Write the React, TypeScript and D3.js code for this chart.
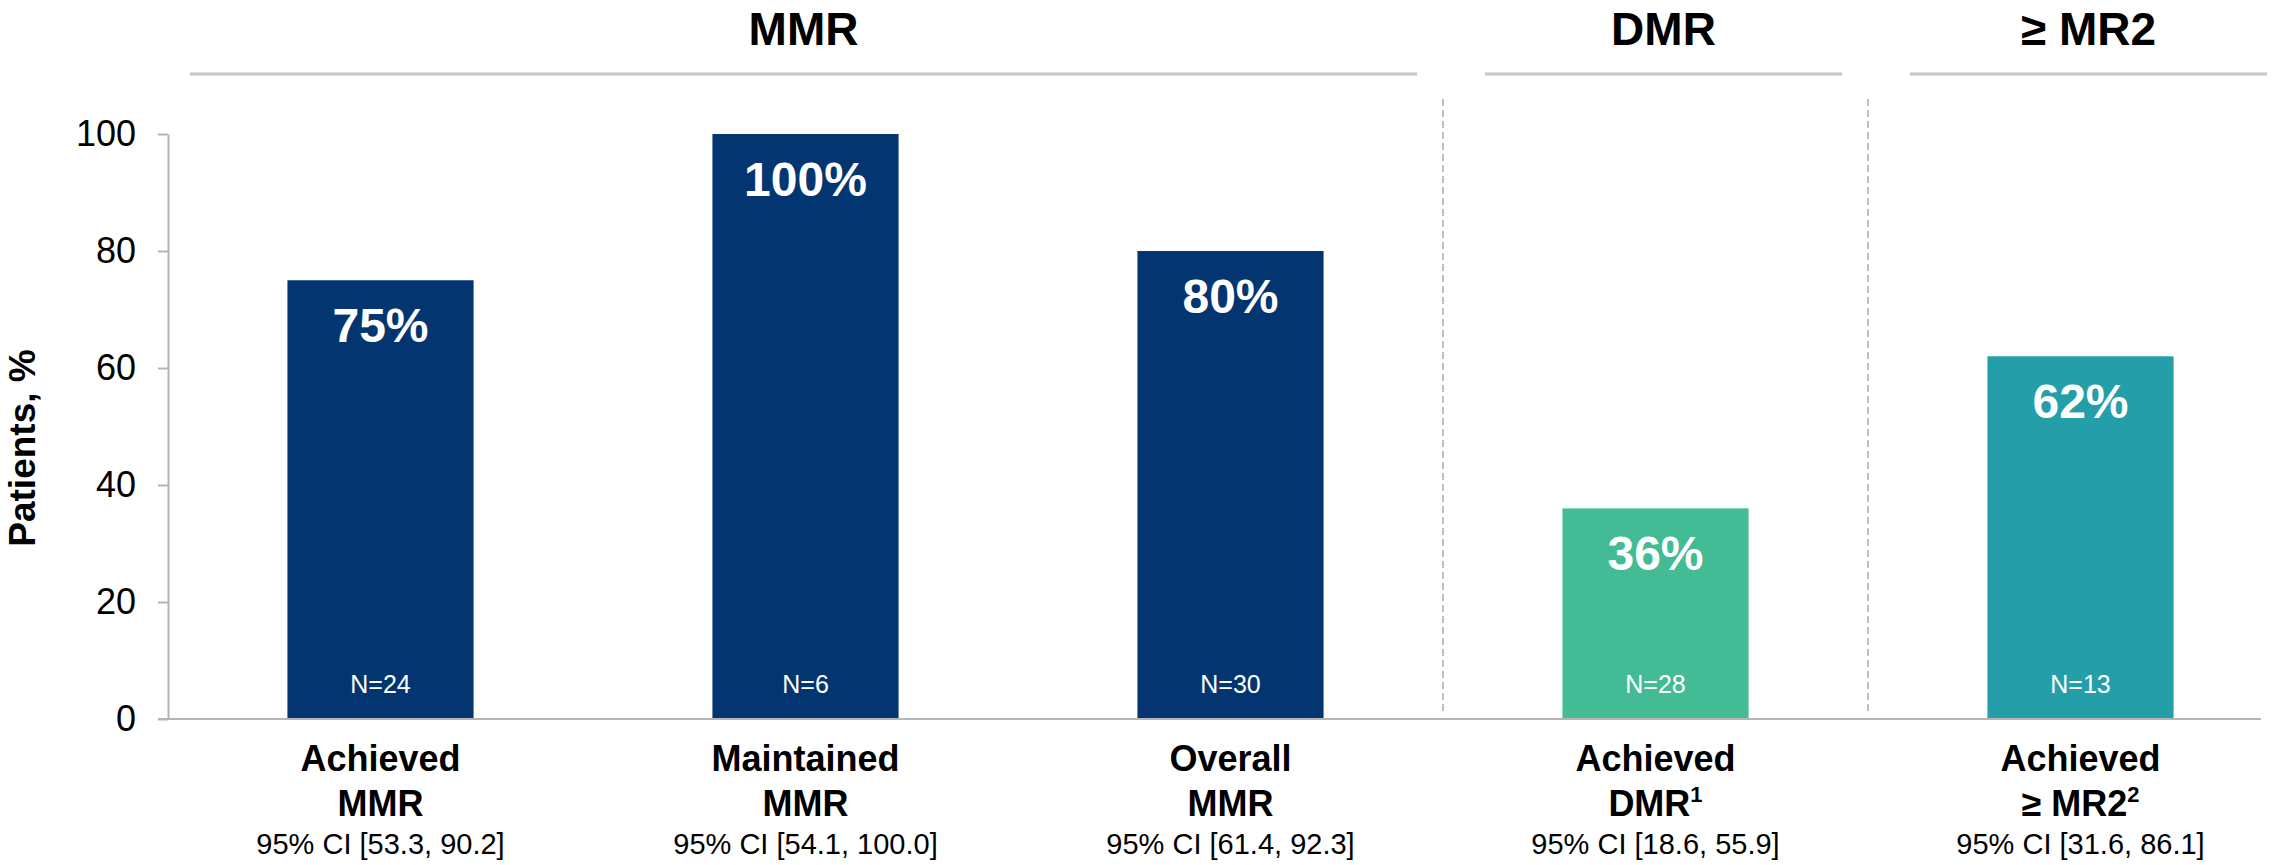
import React, { useEffect, useRef } from "react";
import * as d3 from "d3";

// Response outcomes by category
const categories = ["Achieved MMR", "Maintained MMR", "Overall MMR", "Achieved DMR", "Achieved ≥ MR2"];
const labelTop = ["Achieved", "Maintained", "Overall", "Achieved", "Achieved"];
const labelBottom = ["MMR", "MMR", "MMR", "DMR", "≥ MR2"];
const footnotes = ["", "", "", "1", "2"];
const values = [75, 100, 80, 36, 62];
const sampleSizes = [24, 6, 30, 28, 13];
const confidence = [
  "95% CI [53.3, 90.2]",
  "95% CI [54.1, 100.0]",
  "95% CI [61.4, 92.3]",
  "95% CI [18.6, 55.9]",
  "95% CI [31.6, 86.1]",
];
const groupOf = ["MMR", "MMR", "MMR", "DMR", "≥ MR2"];
const groups = ["MMR", "DMR", "≥ MR2"];
const yTicks = [0, 20, 40, 60, 80, 100];

const groupColors: Record<string, string> = {
  MMR: "#033670",
  DMR: "#43BB94",
  "≥ MR2": "#249FA9",
};

const W = 2292;
const H = 865;
const FONT = "'Liberation Sans', Arial, Helvetica, sans-serif";

export default function App() {
  const axisRef = useRef<SVGGElement>(null);

  const x = d3
    .scaleBand<string>()
    .domain(categories)
    .range([168, 2293])
    .paddingInner(0.562)
    .paddingOuter(0.281);

  const y = d3.scaleLinear().domain([0, 100]).range([719, 134]);

  useEffect(() => {
    if (!axisRef.current) return;
    const g = d3.select(axisRef.current);
    g.selectAll("*").remove();
    g.call(
      d3
        .axisLeft(y)
        .tickValues(yTicks)
        .tickSize(10)
        .tickSizeOuter(0)
        .tickPadding(22)
        .tickFormat(d3.format("d"))
    );
    g.select(".domain").attr("stroke", "#b5b5b5").attr("stroke-width", 2);
    g.selectAll(".tick line").attr("stroke", "#b5b5b5").attr("stroke-width", 2);
    g.selectAll(".tick text")
      .attr("fill", "#000")
      .attr("font-size", 36)
      .attr("font-family", FONT);
  }, []);

  const step = x.step();
  const bw = x.bandwidth();

  // group spans along the x axis
  const groupSpans = groups.map((gName) => {
    const idx = categories.filter((_, i) => groupOf[i] === gName);
    const first = x(idx[0])! - (step - bw) / 2;
    const last = x(idx[idx.length - 1])! + bw + (step - bw) / 2;
    return { name: gName, x0: first, x1: last };
  });

  // dividers between groups
  const dividers = groupSpans.slice(1).map((s) => s.x0);

  return (
    <svg
      width={W}
      height={H}
      style={{ position: "absolute", left: 0, top: 0, display: "block", background: "#fff" }}
      fontFamily={FONT}
    >
      {/* group headings */}
      {groupSpans.map((s, i) => {
        const lx0 = s.x0 + (i === 0 ? 22 : 42);
        const lx1 = s.x1 - 26;
        return (
          <g key={s.name}>
            <line x1={lx0} x2={lx1} y1={74} y2={74} stroke="#c6c6c6" strokeWidth={3} />
            <text
              x={(lx0 + lx1) / 2}
              y={45}
              textAnchor="middle"
              fontSize={46}
              fontWeight="bold"
              fill="#000"
            >
              {s.name}
            </text>
          </g>
        );
      })}

      {/* dashed group dividers */}
      {dividers.map((dx, i) => (
        <line
          key={i}
          x1={dx}
          x2={dx}
          y1={99}
          y2={713}
          stroke="#c0c0c0"
          strokeWidth={2}
          strokeDasharray="7,4"
        />
      ))}

      {/* bars */}
      {categories.map((c, i) => {
        const bx = x(c)!;
        const cx = bx + bw / 2;
        return (
          <g key={c}>
            <rect
              x={bx}
              y={y(values[i])}
              width={bw}
              height={y(0) - y(values[i])}
              fill={groupColors[groupOf[i]]}
            />
            <text
              x={cx}
              y={y(values[i]) + 62}
              textAnchor="middle"
              fontSize={48}
              fontWeight="bold"
              fill="#fff"
            >
              {values[i]}%
            </text>
            <text x={cx} y={693} textAnchor="middle" fontSize={25} fill="#fff">
              N={sampleSizes[i]}
            </text>
            <text x={cx} y={771} textAnchor="middle" fontSize={36} fontWeight="bold" fill="#000">
              {labelTop[i]}
            </text>
            <text x={cx} y={816} textAnchor="middle" fontSize={36} fontWeight="bold" fill="#000">
              {labelBottom[i]}
              {footnotes[i] && (
                <tspan fontSize={22} dy={-14}>
                  {footnotes[i]}
                </tspan>
              )}
            </text>
            <text x={cx} y={854} textAnchor="middle" fontSize={29} fill="#000">
              {confidence[i]}
            </text>
          </g>
        );
      })}

      {/* baseline */}
      <line x1={158} x2={2261} y1={y(0)} y2={y(0)} stroke="#b5b5b5" strokeWidth={2} />

      {/* y axis */}
      <g ref={axisRef} transform="translate(168,0)" />

      {/* y axis title */}
      <text
        transform="translate(35,448) rotate(-90)"
        textAnchor="middle"
        fontSize={37}
        fontWeight="bold"
        fill="#000"
      >
        Patients, %
      </text>
    </svg>
  );
}
